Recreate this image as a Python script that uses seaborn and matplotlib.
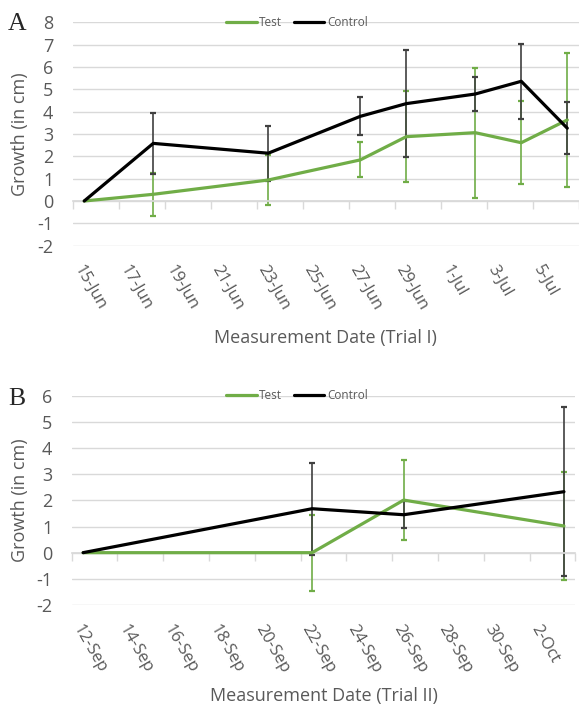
import numpy as np
import pandas as pd
import matplotlib
matplotlib.use('Agg')
import matplotlib.pyplot as plt
import matplotlib.dates as mdates
from matplotlib.lines import Line2D
import seaborn as sns

nan = np.nan
YEAR = '2019'

# Trial I (panel A)
trial1_dates = ['15-Jun', '18-Jun', '23-Jun', '27-Jun', '29-Jun', '2-Jul', '4-Jul', '6-Jul']
trial1_test = [0, 0.30, 0.94, 1.84, 2.88, 3.06, 2.61, 3.63]
trial1_test_err = [nan, 0.97, 1.10, 0.78, 2.03, 2.91, 1.86, 2.99]
trial1_control = [0, 2.58, 2.14, 3.79, 4.36, 4.79, 5.36, 3.26]
trial1_control_err = [nan, 1.37, 1.23, 0.85, 2.41, 0.77, 1.68, 1.17]
trial1_ticks = ['15-Jun', '17-Jun', '19-Jun', '21-Jun', '23-Jun', '25-Jun',
                '27-Jun', '29-Jun', '1-Jul', '3-Jul', '5-Jul']

# Trial II (panel B)
trial2_dates = ['12-Sep', '22-Sep', '26-Sep', '3-Oct']
trial2_test = [0, 0, 2.01, 1.02]
trial2_test_err = [nan, 1.45, 1.53, 2.07]
trial2_control = [0, 1.68, 1.45, 2.33]
trial2_control_err = [nan, 1.76, 0.51, 3.22]
trial2_ticks = ['12-Sep', '14-Sep', '16-Sep', '18-Sep', '20-Sep', '22-Sep',
                '24-Sep', '26-Sep', '28-Sep', '30-Sep', '2-Oct']

GREEN = '#70AD47'
GREY = '#595959'
GRID = '#D9D9D9'

sns.set_theme(style='white')
plt.rcParams['font.family'] = ['Open Sans', 'DejaVu Sans']
plt.rcParams['axes.unicode_minus'] = False


def to_dates(labels):
    return pd.to_datetime([d + '-' + YEAR for d in labels], format='%d-%b-%Y')


def panel(fig, rect, dates, test, test_err, control, control_err, ticks,
          ylim, xlabel, xlabel_y, ylabel_x):
    ax = fig.add_axes(rect)
    d = to_dates(dates)
    df = pd.DataFrame({'date': list(d) + list(d),
                       'growth': test + control,
                       'series': ['Test'] * len(d) + ['Control'] * len(d)})

    ax.errorbar(d, test, yerr=test_err, fmt='none', ecolor=GREEN,
                elinewidth=1.2, capsize=2.2, capthick=1.6, zorder=2)
    ax.errorbar(d, control, yerr=control_err, fmt='none', ecolor='#404040',
                elinewidth=1.2, capsize=2.2, capthick=1.6, zorder=2)
    sns.lineplot(data=df, x='date', y='growth', hue='series',
                 palette={'Test': GREEN, 'Control': 'black'},
                 lw=2.3, legend=False, ax=ax, zorder=3)

    half = pd.Timedelta(hours=12)
    ax.set_xlim(d[0] - half, d[-1] + half)
    ax.set_ylim(*ylim)

    # date axis line sits at zero, tick marks on day boundaries
    for s in ['top', 'right', 'left']:
        ax.spines[s].set_visible(False)
    ax.spines['bottom'].set_position(('data', 0))
    ax.spines['bottom'].set_color(GRID)
    ax.set_xticks(pd.date_range(d[0] - half, d[-1] + half, freq='2D'))
    ax.tick_params(axis='x', bottom=True, length=6, width=1, color=GRID,
                   labelbottom=False, direction='out')

    ax.set_yticks(range(ylim[0], ylim[1] + 1))
    ax.yaxis.grid(True, color=GRID, lw=1)
    ax.tick_params(axis='y', left=False, length=0, pad=14, labelsize=13,
                   labelcolor=GREY)

    # date labels below the plot area
    sec = ax.secondary_xaxis('bottom')
    sec.set_xticks(mdates.date2num(to_dates(ticks)), labels=ticks,
                   rotation=-60, ha='left', va='top', rotation_mode='anchor',
                   fontsize=12, color=GREY)
    sec.tick_params(length=0, pad=12)
    sec.spines['bottom'].set_visible(False)

    ax.set_xlabel(xlabel, fontsize=13, color=GREY)
    ax.xaxis.set_label_coords(0.5, xlabel_y)
    ax.set_ylabel('Growth (in cm)', fontsize=13, color=GREY)
    ax.yaxis.set_label_coords(ylabel_x, 0.5)
    return ax


fig = plt.figure(figsize=(5.79, 7.09), dpi=100)

panel(fig, [0.1256, 0.6535, 0.874, 0.315], trial1_dates, trial1_test,
      trial1_test_err, trial1_control, trial1_control_err, trial1_ticks,
      (-2, 8), 'Measurement Date (Trial I)', -0.373, -0.0864)
panel(fig, [0.1238, 0.1467, 0.870, 0.2952], trial2_dates, trial2_test,
      trial2_test_err, trial2_control, trial2_control_err, trial2_ticks,
      (-2, 6), 'Measurement Date (Trial II)', -0.392, -0.0848)

handles = [Line2D([], [], color=GREEN, lw=2.3), Line2D([], [], color='black', lw=2.3)]
for ly in [0.9676, 0.4419]:
    fig.legend(handles, ['Test', 'Control'], loc='center',
               bbox_to_anchor=(0.5124, ly), ncol=2, frameon=False,
               fontsize=8.5, handlelength=2.6, handletextpad=0.2,
               columnspacing=1.0, labelcolor=GREY)

fig.text(8 / 579, 1 - 30 / 709, 'A', family='Liberation Serif', fontsize=18.5,
         va='baseline', ha='left')
fig.text(8 / 579, 1 - 405 / 709, 'B', family='Liberation Serif', fontsize=18.5,
         va='baseline', ha='left')

fig.savefig('out.png', dpi=100)
